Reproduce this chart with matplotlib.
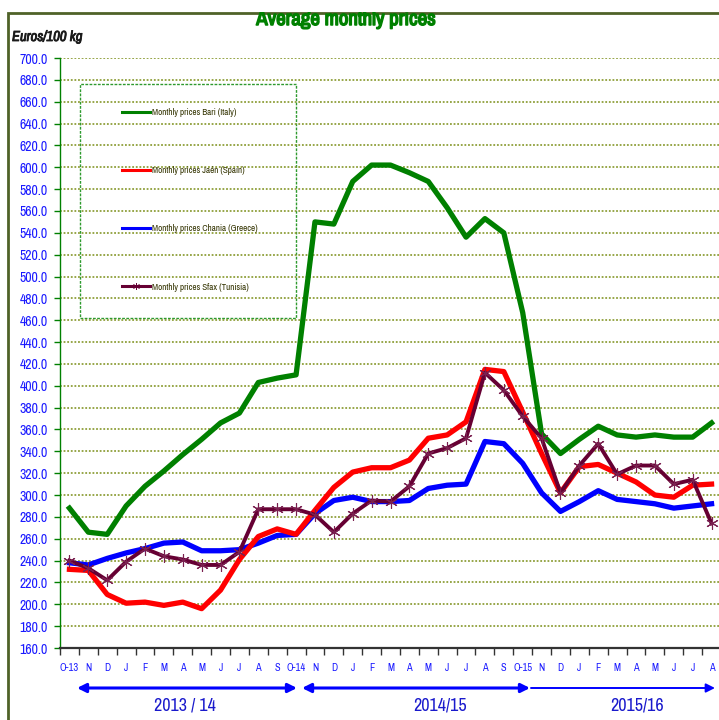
import matplotlib
matplotlib.use("Agg")
import matplotlib.pyplot as plt
from matplotlib import font_manager as fm
from matplotlib import patheffects as pe
from matplotlib.lines import Line2D
from matplotlib.patches import Rectangle
from matplotlib.transforms import blended_transform_factory
import numpy as np

_available = {f.name for f in fm.fontManager.ttflist}
_narrow = next((f for f in ['Liberation Sans Narrow', 'Arial Narrow', 'Archivo Narrow',
                            'Roboto Condensed', 'Asap Condensed'] if f in _available),
               'Liberation Sans')
_has_bold = any(f.name == _narrow and isinstance(f.weight, int) and f.weight >= 600
                for f in fm.fontManager.ttflist) or any(
                f.name == _narrow and str(f.weight) in ('bold', 'heavy', 'black')
                for f in fm.fontManager.ttflist)
plt.rcParams['font.family'] = [_narrow, 'DejaVu Sans']

months = ["O-13", "N", "D", "J", "F", "M", "A", "M", "J", "J", "A", "S",
          "O-14", "N", "D", "J", "F", "M", "A", "M", "J", "J", "A", "S",
          "O-15", "N", "D", "J", "F", "M", "A", "M", "J", "J", "A"]

bari_italy = [288, 266, 264, 290, 308, 322, 337, 351, 366, 375, 403, 407,
              410, 550, 548, 587, 602, 602, 595, 587, 563, 536, 553, 540,
              467, 356, 338, 351, 363, 355, 353, 355, 353, 353, 366]
jaen_spain = [232, 231, 209, 201, 202, 199, 202, 196, 213, 241, 262, 269,
              264, 286, 307, 321, 325, 325, 332, 352, 355, 367, 415, 413,
              376, 338, 302, 326, 328, 320, 312, 300, 298, 309, 310]
chania_greece = [238, 236, 242, 247, 251, 256, 257, 249, 249, 250, 256, 263,
                 264, 283, 295, 298, 294, 294, 295, 306, 309, 310, 349, 347,
                 329, 302, 285, 294, 304, 296, 294, 292, 288, 290, 292]
sfax_tunisia = [240, 233, 222, 239, 251, 244, 241, 236, 236, 248, 287, 287,
                287, 282, 266, 283, 295, 294, 308, 338, 343, 352, 412, 396,
                372, 352, 302, 327, 347, 319, 327, 327, 310, 314, 274]

series_labels = ["Monthly prices Bari (Italy)", "Monthly prices Jaén (Spain)",
                 "Monthly prices Chania (Greece)", "Monthly prices Sfax (Tunisia)"]
seasons = ["2013 / 14", "2014/15", "2015/16"]

W, H = 719, 720
fig = plt.figure(figsize=(W / 100, H / 100), dpi=100)
fig.patch.set_facecolor('white')

left_px, right_px, top_px, bot_px = 60, 721, 58, 648
ax = fig.add_axes([left_px / W, 1 - bot_px / H, (right_px - left_px) / W, (bot_px - top_px) / H])

x = np.arange(len(months))
ax.plot(x, bari_italy, color='#008000', lw=3.8, solid_joinstyle='round', zorder=3)
ax.plot(x, jaen_spain, color='#ff0000', lw=3.8, solid_joinstyle='round', zorder=3)
ax.plot(x, chania_greece, color='#0000ff', lw=3.8, solid_joinstyle='round', zorder=2.9)
ax.plot(x, sfax_tunisia, color='#660033', lw=2.8, marker=(6, 2, 0), markersize=9,
        markeredgewidth=0.8, markeredgecolor='#7a2050', zorder=3.1)

ax.set_xlim(-0.5, len(months) - 0.5)
ax.set_ylim(160, 700)
ax.set_yticks(np.arange(160, 701, 20))
ax.set_yticklabels([f"{v:.1f}" for v in np.arange(160, 701, 20)])
ax.set_xticks(x)
ax.set_xticklabels(months)
ax.set_xticks(np.arange(-0.5, len(months), 1), minor=True)

ax.yaxis.grid(True, color='#8f9f3a', linestyle=(0, (1, 1)), lw=1.3)
ax.set_axisbelow(True)
for s in ['top', 'right']:
    ax.spines[s].set_visible(False)
ax.spines['left'].set_color('#008000')
ax.spines['left'].set_linewidth(1.0)
ax.spines['bottom'].set_color('#333333')
ax.spines['bottom'].set_linewidth(1.6)

ax.tick_params(axis='y', colors='#008000', length=4, width=1, labelcolor='#1a1aff',
               labelsize=10, pad=5)
ax.tick_params(axis='x', which='major', length=0, labelcolor='#1a1aff', labelsize=7.5, pad=11)
ax.tick_params(axis='x', which='minor', length=5, width=1, color='#333333')

# legend
handles = [
    Line2D([], [], color='#008000', lw=2.2),
    Line2D([], [], color='#ff0000', lw=2.2),
    Line2D([], [], color='#0000ff', lw=2.2),
    Line2D([], [], color='#660033', lw=2.2, marker=(6, 2, 0), markersize=5, markeredgewidth=0.7),
]
leg = ax.legend(handles, series_labels, loc='upper left',
                bbox_to_anchor=((122 - left_px) / (right_px - left_px), 1 - (108 - top_px) / (bot_px - top_px)),
                frameon=False, fontsize=6.5, labelspacing=5.45, handlelength=3.1,
                handletextpad=0.2, borderaxespad=0, borderpad=0)
for t in leg.get_texts():
    t.set_color('#333300')
box = Rectangle((80 / W, 1 - 318 / H), (296 - 80) / W, (318 - 84) / H, transform=fig.transFigure,
                facecolor='white', edgecolor='#2e9a2e', lw=1.0, linestyle=(0, (2, 1)), zorder=1)
fig.patches.append(box)
ax.set_zorder(2)
ax.patch.set_alpha(0)

# season arrows
trans = blended_transform_factory(ax.transData, ax.transAxes)
def xd(px):
    return (px - left_px) / ((right_px - left_px) / len(months)) - 0.5
arrow_y = (bot_px - 688) / (bot_px - top_px)
label_y = (bot_px - 706) / (bot_px - top_px)
ax.annotate('', xy=(xd(297), arrow_y), xytext=(xd(77), arrow_y), xycoords=trans, textcoords=trans,
            arrowprops=dict(arrowstyle='<|-|>', color='#0000ff', lw=2.2, mutation_scale=13,
                            shrinkA=0, shrinkB=0), annotation_clip=False)
ax.annotate('', xy=(xd(530), arrow_y), xytext=(xd(302), arrow_y), xycoords=trans, textcoords=trans,
            arrowprops=dict(arrowstyle='<|-|>', color='#0000ff', lw=2.2, mutation_scale=13,
                            shrinkA=0, shrinkB=0), annotation_clip=False)
ax.annotate('', xy=(xd(715), arrow_y), xytext=(xd(531), arrow_y), xycoords=trans, textcoords=trans,
            arrowprops=dict(arrowstyle='-|>', color='#0000ff', lw=1.4, mutation_scale=13,
                            shrinkA=0, shrinkB=0), annotation_clip=False)
for s, px in zip(seasons, [185, 440, 637]):
    ax.text(xd(px), label_y, s, transform=trans, ha='center', va='center',
            fontsize=13, color='#1a1acc', clip_on=False)

# outer frame
frame = Rectangle((8 / W, -0.1), 1.2, 1 - 13 / H + 0.1, transform=fig.transFigure,
                  facecolor='none', edgecolor='#4f6228', lw=2.0, zorder=0)
fig.patches.append(frame)

# title (top clipped by the frame as in the source image)
bold_fx = [] if _has_bold else [pe.withStroke(linewidth=1.1, foreground='#008000')]
fig.text(346 / W, 1 - 25 / H, "Average monthly prices", ha='center', va='baseline',
         fontsize=15, fontweight='bold', color='#008000', zorder=3, path_effects=bold_fx)
cover = Rectangle((0, 1 - 12 / H), 1, 12 / H, transform=fig.transFigure,
                  facecolor='white', edgecolor='none', zorder=10)
fig.patches.append(cover)

ital_fx = [] if _has_bold else [pe.withStroke(linewidth=0.6, foreground='#1a1a1a')]
fig.text(12 / W, 1 - 37 / H, "Euros/100 kg", ha='left', va='center', fontsize=10.5,
         style='italic', fontweight='bold', color='#1a1a1a', path_effects=ital_fx)

fig.savefig('out.png', dpi=100)
